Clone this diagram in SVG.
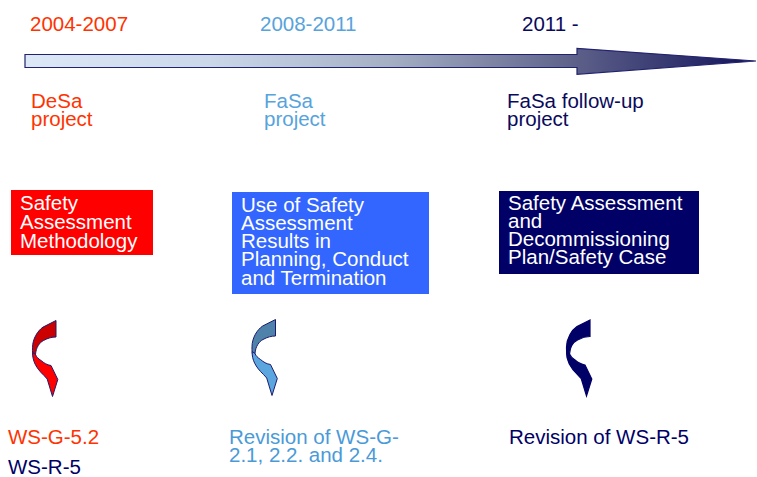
<svg xmlns="http://www.w3.org/2000/svg" width="757" height="477" viewBox="0 0 757 477">
<style>
text{font-family:"Liberation Sans",Arial,sans-serif;font-size:20.5px}
.red{fill:#ff3300}
.lb{fill:#57a3dc}
.nv{fill:#0a0a5c}
.wt{fill:#ffffff}
.cs{stroke:#1c1c6e;stroke-width:1;stroke-linejoin:round}
</style>
<defs>
<linearGradient id="tl" x1="25" y1="0" x2="757" y2="0" gradientUnits="userSpaceOnUse">
<stop offset="0" stop-color="#dce8f6"/>
<stop offset="0.25" stop-color="#cbd8ea"/>
<stop offset="0.5" stop-color="#a4afc4"/>
<stop offset="0.75" stop-color="#5d6189"/>
<stop offset="1" stop-color="#12125a"/>
</linearGradient>
<g id="arrTop"><path d="M0,0 L-13,6.6 C-18,10 -23.5,18 -23.5,27.3 C-23.7,31 -23.3,34 -22.5,37.3 L-20.5,34 C-20,27 -16.5,22 -12.5,20 C-8,17.5 -4,16.5 0,16.5 Z"/></g>
<g id="arrLow"><path d="M-23.3,32 C-23.8,40 -20,47.5 -12,55 L-8.8,58.5 L-3.5,76 L1.8,59 L-5,45 C-9,44.5 -12,42.5 -15,40 C-18,38 -19.5,36.5 -20.5,34 Z"/></g>
</defs>
<rect width="757" height="477" fill="#ffffff"/>

<g id="timeline">
<path d="M25,54.5 H577 V48.3 L756,61 L577,74.3 V67.5 H25 Z" fill="url(#tl)" stroke="#22226e" stroke-width="1.2"/>
</g>

<g id="period1">
<text class="red" x="30" y="30.5">2004-2007</text>
<text class="red" x="31" y="107.5">DeSa</text>
<text class="red" x="31" y="125.5">project</text>
</g>
<g id="period2">
<text class="lb" x="260" y="30.5">2008-2011</text>
<text class="lb" x="264" y="107.5">FaSa</text>
<text class="lb" x="264" y="125.5">project</text>
</g>
<g id="period3">
<text class="nv" x="522" y="30.5">2011 -</text>
<text class="nv" x="507" y="107.5">FaSa follow-up</text>
<text class="nv" x="507" y="125.5">project</text>
</g>

<g id="box1">
<rect x="11" y="190" width="142" height="65" fill="#ff0000"/>
<text class="wt" x="20" y="210">Safety</text>
<text class="wt" x="20" y="228.7">Assessment</text>
<text class="wt" x="20" y="247.5">Methodology</text>
</g>
<g id="box2">
<rect x="232" y="192" width="197" height="102" fill="#3366ff"/>
<text class="wt" x="241" y="211.5">Use of Safety</text>
<text class="wt" x="241" y="229.8">Assessment</text>
<text class="wt" x="241" y="248">Results in</text>
<text class="wt" x="241" y="266.4">Planning, Conduct</text>
<text class="wt" x="241" y="284.7">and Termination</text>
</g>
<g id="box3">
<rect x="499" y="191" width="200" height="83" fill="#000066"/>
<text class="wt" x="508" y="210">Safety Assessment</text>
<text class="wt" x="508" y="228">and</text>
<text class="wt" x="508" y="246">Decommissioning</text>
<text class="wt" x="508" y="264">Plan/Safety Case</text>
</g>

<g id="connectors">
<g transform="translate(56,320.5)">
<use href="#arrTop" fill="#cc0000" class="cs"/>
<use href="#arrLow" fill="#ff0000" class="cs"/>
</g>
<g transform="translate(275.5,319.5)">
<use href="#arrTop" fill="#4f82aa" class="cs"/>
<use href="#arrLow" fill="#5ba6de" class="cs"/>
</g>
<g transform="translate(590,320)">
<use href="#arrTop" fill="#000066" stroke="#000066" stroke-width="1.2"/>
<use href="#arrLow" fill="#000066" stroke="#000066" stroke-width="1.2"/>
</g>
</g>

<g id="result1">
<text class="red" x="8" y="443.5">WS-G-5.2</text>
<text fill="#000066" x="8" y="474">WS-R-5</text>
</g>
<g id="result2">
<text fill="#4a9ad8" x="229" y="444">Revision of WS-G-</text>
<text fill="#4a9ad8" x="229" y="462">2.1, 2.2. and 2.4.</text>
</g>
<g id="result3">
<text fill="#000066" x="509" y="444">Revision of WS-R-5</text>
</g>
</svg>
